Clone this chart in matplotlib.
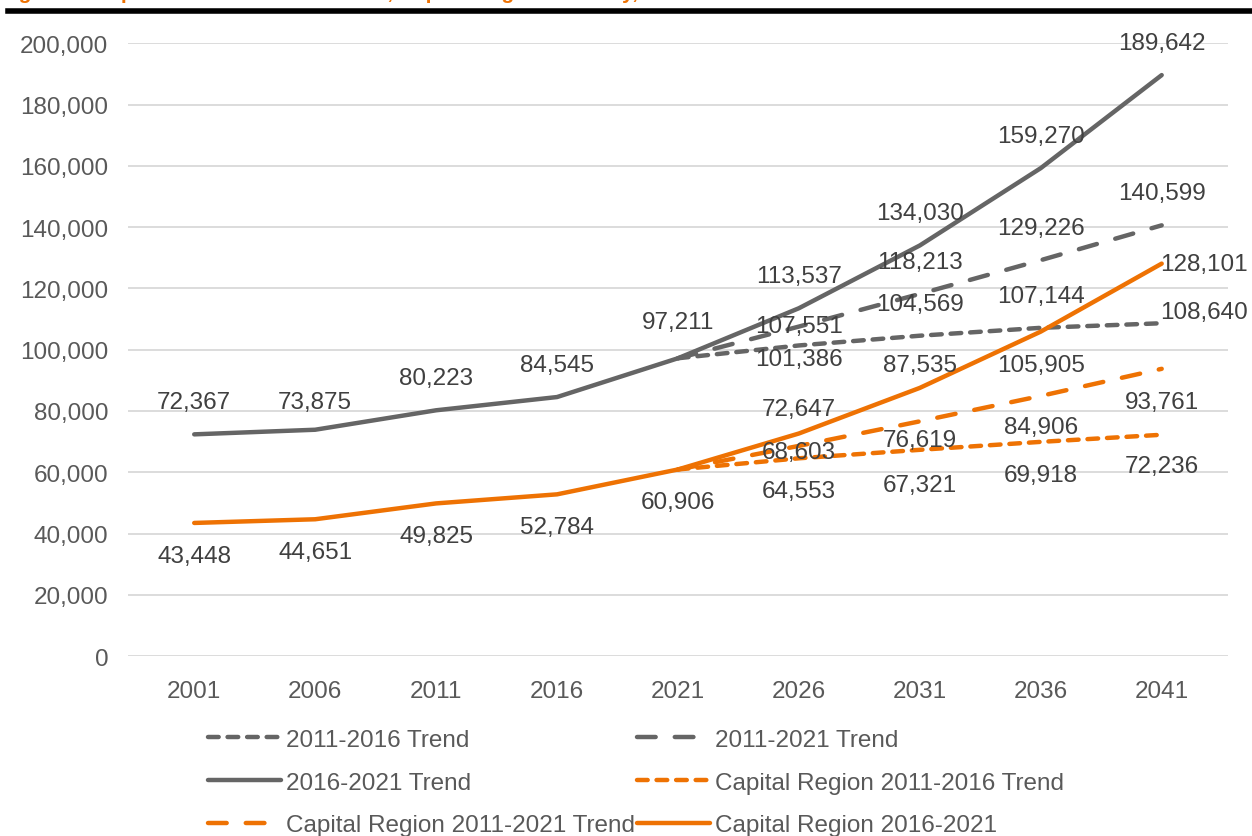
import numpy as np
import matplotlib.pyplot as plt
from matplotlib.lines import Line2D

plt.rcParams['font.family'] = ['Liberation Sans', 'DejaVu Sans']

# years on the x axis
years = ['2001', '2006', '2011', '2016', '2021', '2026', '2031', '2036', '2041']

# city series
city_2016_2021 = [72367, 73875, 80223, 84545, 97211, 113537, 134030, 159270, 189642]
city_2011_2016 = [97211, 101386, 104569, 107144, 108640]
city_2011_2021 = [97211, 107551, 118213, 129226, 140599]

# capital region series
cr_2016_2021 = [43448, 44651, 49825, 52784, 60906, 72647, 87535, 105905, 128101]
cr_2011_2016 = [60906, 64553, 67321, 69918, 72236]
cr_2011_2021 = [60906, 68603, 76619, 84906, 93761]

y_ticks = [0, 20000, 40000, 60000, 80000, 100000, 120000, 140000, 160000, 180000, 200000]

GRAY = '#656565'
ORANGE = '#EE7203'
TXT = '#404040'
FS = 17.5

fig = plt.figure(figsize=(12.52, 8.37), dpi=100)
ax = fig.add_axes([0.102, 0.215, 0.879, 0.732])

x_all = np.arange(len(years))
x_proj = np.arange(4, len(years))

short = (0, (2.4, 2.0))
long_ = (0, (4.2, 4.3))
lw = 3.2

ax.plot(x_proj, city_2011_2016, color=GRAY, lw=lw, ls=short, dash_capstyle='round')
ax.plot(x_proj, city_2011_2021, color=GRAY, lw=lw, ls=long_, dash_capstyle='round')
ax.plot(x_all, city_2016_2021, color=GRAY, lw=lw, solid_capstyle='round')
ax.plot(x_proj, cr_2011_2016, color=ORANGE, lw=lw, ls=short, dash_capstyle='round')
ax.plot(x_proj, cr_2011_2021, color=ORANGE, lw=lw, ls=long_, dash_capstyle='round')
ax.plot(x_all, cr_2016_2021, color=ORANGE, lw=lw, solid_capstyle='round')


# data labels, offsets given in pixels
def put_labels(xs, vals, offs):
    for x, v, o in zip(xs, vals, offs):
        dx, dy, ha = o
        ax.annotate(f'{v:,}', (x, v), xytext=(dx * 0.72, dy * 0.72),
                    textcoords='offset points', ha=ha, va='center',
                    fontsize=FS, color=TXT)


A = (0, 32, 'center')
B = (0, -33, 'center')
R = (-2, 0, 'left')

put_labels(x_all, city_2016_2021, [A, (0, 28, 'center'), A, A, (0, 36, 'center'), A, A, A, A])
put_labels(x_proj[1:], city_2011_2016[1:], [(0, -14, 'center'), A, A, (-2, 11, 'left')])
put_labels(x_proj[1:], city_2011_2021[1:], [(0, 1, 'center'), A, A, A])
put_labels(x_all, cr_2016_2021, [B, B, B, B, B, (0, 24, 'center'), (0, 23, 'center'), B, R])
put_labels(x_proj[1:], cr_2011_2016[1:], [B, (0, -35, 'center'), B, (0, -31, 'center')])
put_labels(x_proj[1:], cr_2011_2021[1:], [(0, -6, 'center'), (0, -19, 'center'), (0, -31, 'center'), B])

ax.set_xlim(-0.55, len(years) - 0.45)
ax.set_ylim(0, 200000)
ax.set_yticks(y_ticks)
ax.set_yticklabels([f'{t:,}' for t in y_ticks])
ax.set_xticks(x_all)
ax.set_xticklabels(years)
ax.tick_params(axis='both', length=0, labelsize=FS, labelcolor='#595959')
ax.tick_params(axis='y', pad=14)
ax.tick_params(axis='x', pad=17)
ax.grid(axis='y', color='#D9D9D9', lw=1.3)
ax.set_axisbelow(True)
for s in ax.spines.values():
    s.set_visible(False)

handles = [
    Line2D([], [], color=GRAY, lw=lw, ls=short, dash_capstyle='round'),
    Line2D([], [], color=GRAY, lw=lw, ls=long_, dash_capstyle='round'),
    Line2D([], [], color=GRAY, lw=lw, solid_capstyle='round'),
    Line2D([], [], color=ORANGE, lw=lw, ls=short, dash_capstyle='round'),
    Line2D([], [], color=ORANGE, lw=lw, ls=long_, dash_capstyle='round'),
    Line2D([], [], color=ORANGE, lw=lw, solid_capstyle='round'),
]
labels = ['2011-2016 Trend', '2011-2021 Trend', '2016-2021 Trend',
          'Capital Region 2011-2016 Trend', 'Capital Region 2011-2021 Trend',
          'Capital Region 2016-2021']
order = [0, 2, 4, 1, 3, 5]
fig.legend([handles[i] for i in order], [labels[i] for i in order],
           loc='upper left', bbox_to_anchor=(0.166, 0.128), ncol=2,
           frameon=False, fontsize=FS, labelcolor='#595959',
           handlelength=3.0, handletextpad=0.2, columnspacing=0.1,
           labelspacing=0.85, borderaxespad=0, borderpad=0)

# top rule and the caption above it, cut by the top edge as in the source
fig.add_artist(Line2D([0.006, 1.0], [1 - 12 / 837, 1 - 12 / 837], color='black', lw=4))
fig.text(0.0, 1.0 + 1 / 837, 'Figure 5: Population Growth Scenarios, Capital Region and City, 2001-2041',
         color=ORANGE, fontsize=15, fontweight='bold', va='baseline', ha='left')

fig.savefig('out.png', dpi=100)
